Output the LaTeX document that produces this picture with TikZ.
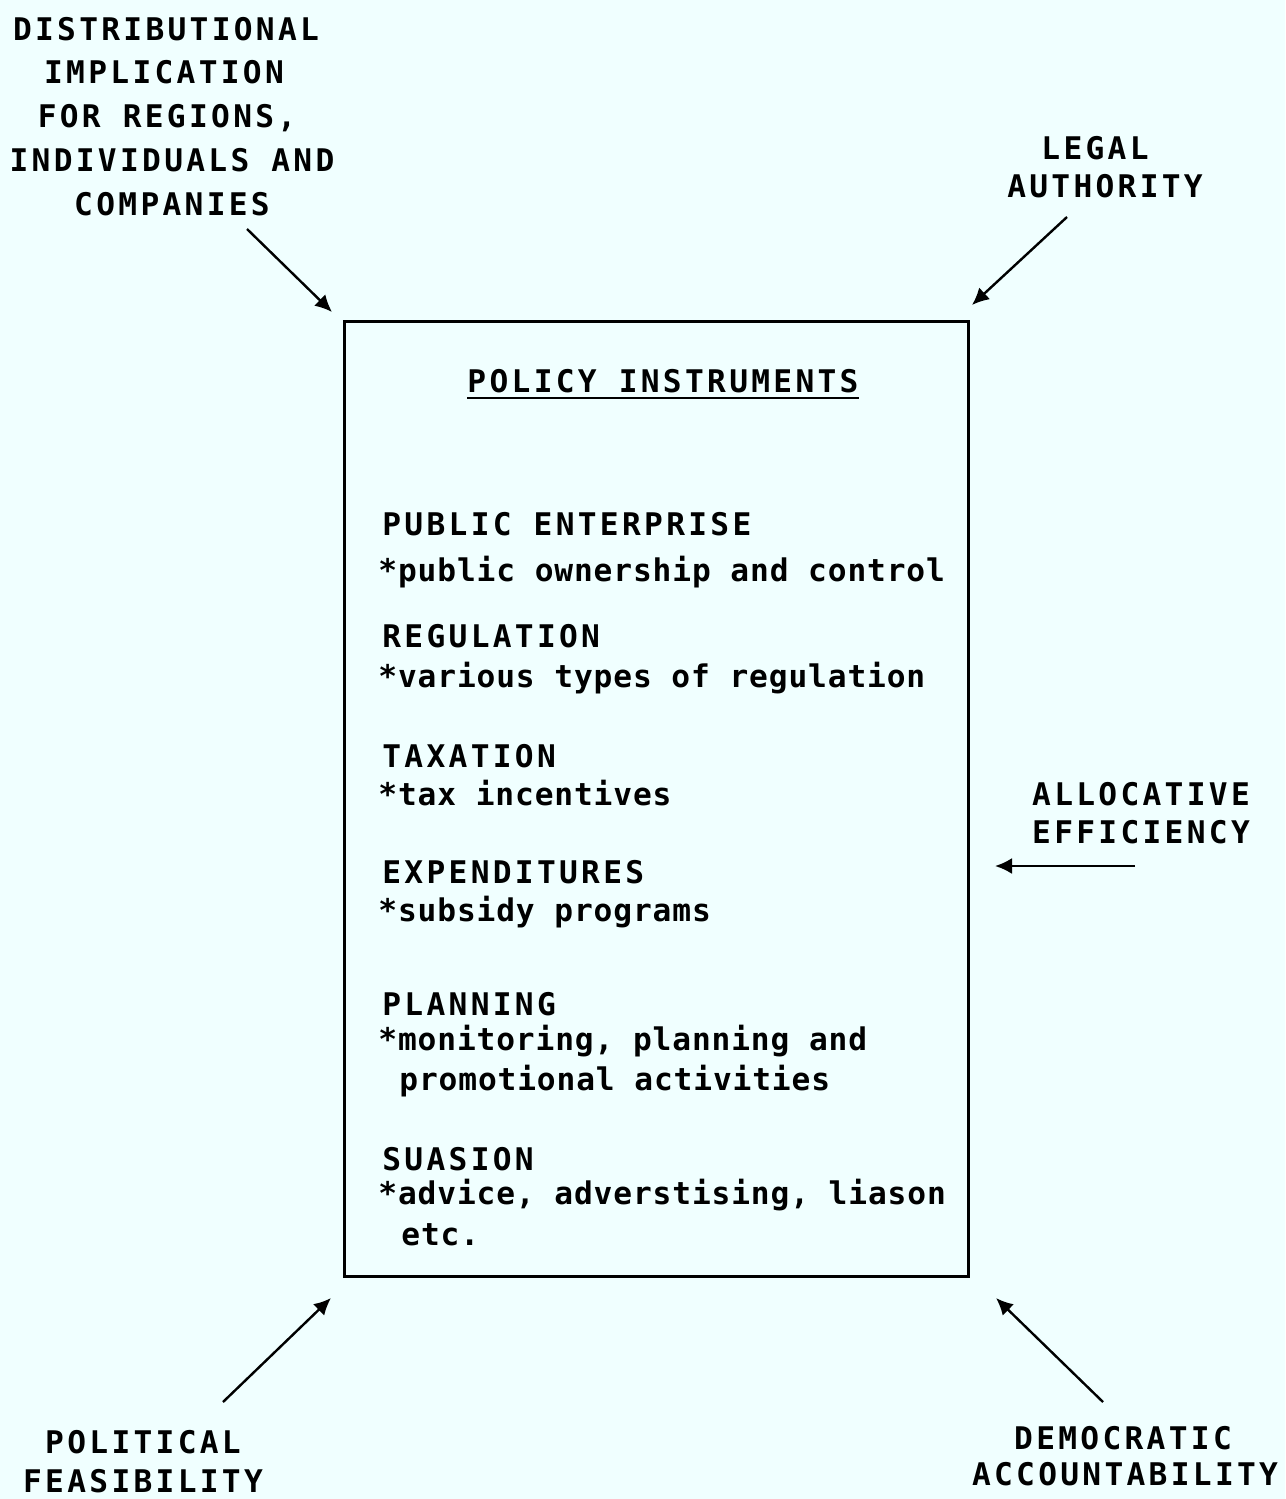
\documentclass[tikz,border=0pt]{standalone}
\usepackage{fontspec}
\usetikzlibrary{arrows.meta}
% plotter-like lettering: monospaced, tracked out
\newfontfamily\capsface[LetterSpace=10.6]{DejaVu Sans Mono}
\newfontfamily\lowface[LetterSpace=2.8]{DejaVu Sans Mono}
\definecolor{paper}{RGB}{240,255,255}
\tikzset{
  capstext/.style={font=\capsface\bfseries\fontsize{15.6}{18}\selectfont, inner sep=0pt, anchor=base},
  capsleft/.style={capstext, anchor=base west},
  lowtext/.style={font=\lowface\bfseries\fontsize{15.6}{18}\selectfont, inner sep=0pt, anchor=base west},
  feed/.style={line width=1.2pt, -{Latex[length=8.5pt,width=8pt]}},
  frame/.style={draw, line width=1.4pt, inner sep=0pt},
}
\begin{document}
\begin{tikzpicture}[x=0.5pt,y=-0.5pt]
  \fill[paper] (0,0) rectangle (1285,1499);
  \useasboundingbox (0,0) rectangle (1285,1499);

  % central box
  \node[frame, minimum width=312pt, minimum height=477.5pt, anchor=north west] (box) at (343,320) {};

  % contents of the box
  \node[capstext] (title) at (663,392) {POLICY INSTRUMENTS};
  \draw[line width=1.4pt] ([yshift=-3pt]title.base west) -- ([yshift=-3pt]title.base east);

  \node[capsleft] (pe)  at (382,535)  {PUBLIC ENTERPRISE};
  \node[lowtext]  (pe1) at (378,581)  {*public ownership and control};
  \node[capsleft] (rg)  at (382,647)  {REGULATION};
  \node[lowtext]  (rg1) at (378,687)  {*various types of regulation};
  \node[capsleft] (tx)  at (382,767)  {TAXATION};
  \node[lowtext]  (tx1) at (378,805)  {*tax incentives};
  \node[capsleft] (ex)  at (382,883)  {EXPENDITURES};
  \node[lowtext]  (ex1) at (378,921)  {*subsidy programs};
  \node[capsleft] (pl)  at (382,1015) {PLANNING};
  \node[lowtext]  (pl1) at (378,1050) {*monitoring, planning and};
  \node[lowtext]  (pl2) at (399,1090) {promotional activities};
  \node[capsleft] (su)  at (382,1170) {SUASION};
  \node[lowtext]  (su1) at (378,1204) {*advice, adverstising, liason};
  \node[lowtext]  (su2) at (401,1245) {etc.};

  % outside factors
  \node[capstext] (d1) at (166,40)  {DISTRIBUTIONAL};
  \node[capstext] (d2) at (164,83)  {IMPLICATION};
  \node[capstext] (d3) at (167,127) {FOR REGIONS,};
  \node[capstext] (d4) at (172,171) {INDIVIDUALS AND};
  \node[capstext] (d5) at (172,215) {COMPANIES};

  \node[capstext] (l1) at (1095,159) {LEGAL};
  \node[capstext] (l2) at (1105,197) {AUTHORITY};

  \node[capstext] (a1) at (1141,805) {ALLOCATIVE};
  \node[capstext] (a2) at (1141,843) {EFFICIENCY};

  \node[capstext] (p1) at (143,1453) {POLITICAL};
  \node[capstext] (p2) at (143,1492) {FEASIBILITY};

  \node[capstext] (m1) at (1123,1449) {DEMOCRATIC};
  \node[capstext] (m2) at (1125,1485) {ACCOUNTABILITY};

  % arrow ends
  \coordinate (dTail) at (247,229);
  \coordinate (dTip)  at (332,312);
  \coordinate (lTail) at (1067,217);
  \coordinate (lTip)  at (972,305);
  \coordinate (aTail) at (1135,866);
  \coordinate (aTip)  at (995,866);
  \coordinate (pTail) at (223,1402);
  \coordinate (pTip)  at (331,1298);
  \coordinate (mTail) at (1103,1402);
  \coordinate (mTip)  at (996,1298);

  \draw[feed] (dTail) -- (dTip);
  \draw[feed] (lTail) -- (lTip);
  \draw[feed] (aTail) -- (aTip);
  \draw[feed] (pTail) -- (pTip);
  \draw[feed] (mTail) -- (mTip);
\end{tikzpicture}
\end{document}
